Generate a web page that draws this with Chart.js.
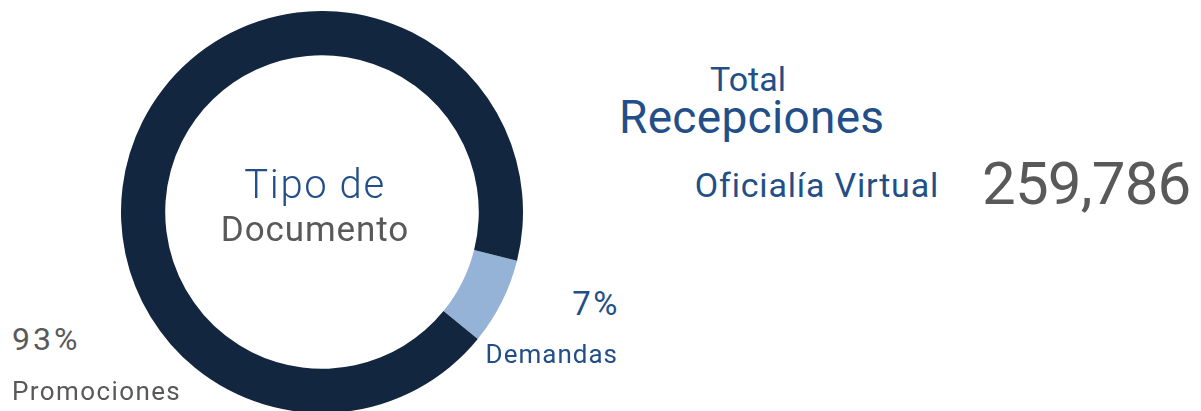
<!DOCTYPE html>
<html lang="es">
<head>
<meta charset="utf-8">
<title>Tipo de Documento</title>
<script src="https://cdn.jsdelivr.net/npm/chart.js@4.4.1/dist/chart.umd.min.js"></script>
<style>
  html, body {
    margin: 0;
    padding: 0;
    background: #fff;
    width: 1201px;
    height: 411px;
    overflow: hidden;
    font-family: Roboto, "Open Sans", sans-serif;
  }
  .txt {
    position: absolute;
    line-height: 1;
    white-space: nowrap;
  }
  .azul { color: #234f88; }
  .gris { color: #595959; }
  .dona {
    position: absolute;
    left: 121px;
    top: 11px;
    width: 402px;
    height: 402px;
  }
</style>
</head>
<body>

<div class="dona"><canvas id="miDona"></canvas></div>

<div class="txt azul" style="font-size:40px;font-weight:300;letter-spacing:1.6px;left:315px;top:165px;transform:translateX(-50%)">Tipo de</div>
<div class="txt gris" style="font-size:35px;letter-spacing:0.9px;left:315px;top:212px;transform:translateX(-50%)">Documento</div>

<div class="txt azul" style="font-size:34px;left:710px;top:62px">Total</div>
<div class="txt azul" style="font-size:46px;letter-spacing:0.3px;left:619px;top:94px">Recepciones</div>
<div class="txt azul" style="font-size:34px;letter-spacing:0.8px;right:262px;top:168px">Oficialía Virtual</div>
<div class="txt gris total" style="font-size:60px;letter-spacing:-0.8px;left:982px;top:154px"></div>

<div class="txt gris pct-promo" style="font-size:32px;letter-spacing:3px;left:12px;top:323px"></div>
<div class="txt gris lbl-promo" style="font-size:26px;letter-spacing:1.4px;left:12px;top:378px"></div>
<div class="txt azul pct-dem" style="font-size:33px;letter-spacing:2.5px;right:581px;top:287px"></div>
<div class="txt azul lbl-dem" style="font-size:26px;letter-spacing:1px;right:583px;top:341px"></div>

<script>
// Données
const categorias = ['Demandas', 'Promociones']
const porcentajes = [7, 93]
const colores = ['#95b3d7', '#12263f']
const totalRecepciones = 259786

// textes autour du graphique
document.querySelector('.total').textContent = totalRecepciones.toLocaleString('en-US')
document.querySelector('.pct-dem').textContent = porcentajes[0] + '%'
document.querySelector('.lbl-dem').textContent = categorias[0]
document.querySelector('.pct-promo').textContent = porcentajes[1] + '%'
document.querySelector('.lbl-promo').textContent = categorias[1]

// la dona
const canvasDona = document.getElementById('miDona')

const dona = new Chart(canvasDona, {
  type: 'doughnut',
  data: {
    labels: categorias,
    datasets: [{
      data: porcentajes,
      backgroundColor: colores,
      borderWidth: 0
    }]
  },
  options: {
    responsive: true,
    maintainAspectRatio: false,
    animation: false,
    cutout: '78%',
    rotation: 104,
    plugins: {
      legend: { display: false },
      tooltip: { enabled: false }
    }
  }
})
</script>
</body>
</html>
